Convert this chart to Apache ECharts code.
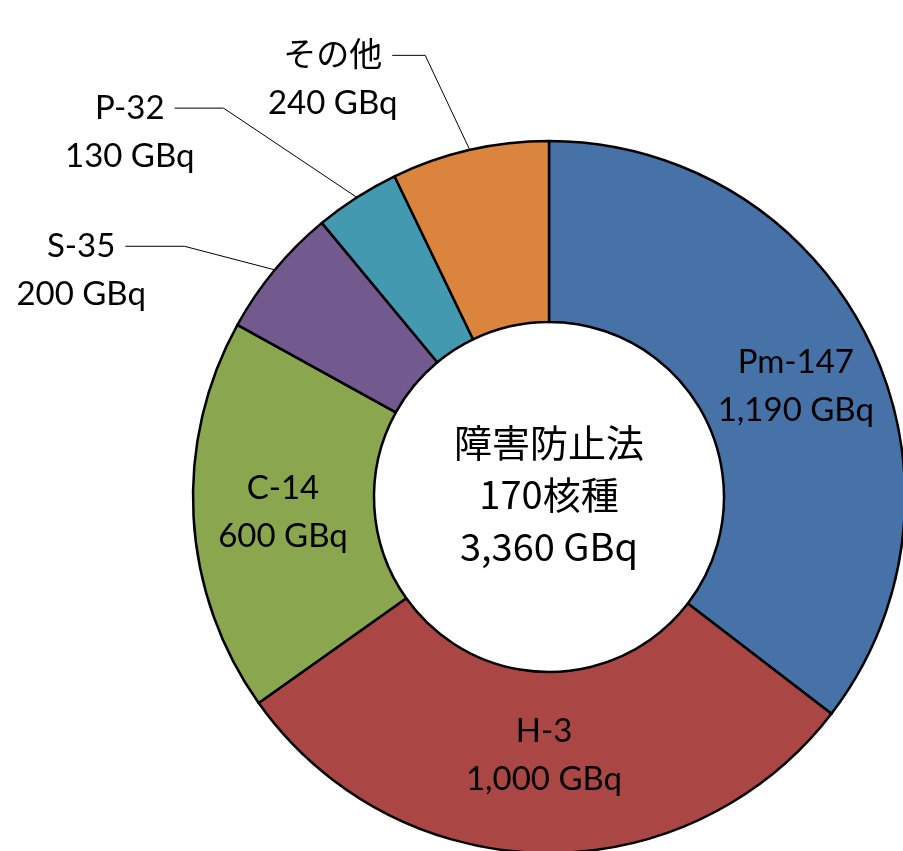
<!DOCTYPE html>
<html>
<head>
<meta charset="utf-8">
<script src="https://cdn.jsdelivr.net/npm/echarts@6/dist/echarts.min.js"></script>
<style>html,body{margin:0;padding:0;background:#fff}#c{width:903px;height:851px}</style>
</head>
<body>
<div id="c"></div>
<script>
const CATEGORIES = ['Pm-147', 'H-3', 'C-14', 'S-35', 'P-32', 'その他'];
const VALUES = [1190, 1000, 600, 200, 130, 240];
const UNIT = 'GBq';
const CENTER_TITLE = '障害防止法';
const NUCLIDE_COUNT = 170;

const COLORS = ['#4672A8', '#AA4744', '#8AA64F', '#725A8F', '#4399B0', '#DB843D'];
const LABEL_POS = ['inside', 'inside', 'inside', 'outside', 'outside', 'outside'];
const LINE_LEN1 = [0, 0, 0, 37, 106, 97];
const LINE_LEN2 = [0, 0, 0, 121, 125, 56];
const KNEE_LEN = [0, 0, 0, 59, 49, 33];
const NUDGE = [[6, 8], [0, -10], [2, 0], [0, 0], [0, 0], [0, 0]];

const CENTER = [549, 497];
const LABEL_FONT = 'Lato, "Noto Sans CJK JP", sans-serif';
const LABEL_SIZE = 33;
const LABEL_LH = 48;

const fmt = v => v.toLocaleString('en-US');
const ctx = document.createElement('canvas').getContext('2d');
ctx.font = LABEL_SIZE + 'px ' + LABEL_FONT;
const mw = t => ctx.measureText(t).width;

const data = CATEGORIES.map((name, i) => {
  const outside = LABEL_POS[i] === 'outside';
  const item = {
    name: name,
    value: VALUES[i],
    itemStyle: { color: COLORS[i] },
    label: { position: LABEL_POS[i] }
  };
  if (outside) {
    const w1 = mw(name), w2 = mw(fmt(VALUES[i]) + ' ' + UNIT);
    item.label.padding = [LABEL_LH, 0, 0, 0];
    item.label.distanceToLabelLine = 10 - (w2 - w1) / 2;
    item.labelLine = { show: true, length: LINE_LEN1[i], length2: LINE_LEN2[i] };
  } else {
    item.labelLine = { show: false };
  }
  return item;
});

const total = VALUES.reduce((a, b) => a + b, 0);

const chart = echarts.init(document.getElementById('c'), null, { renderer: 'canvas' });
chart.setOption({
  backgroundColor: '#fff',
  animation: false,
  series: [{
    type: 'pie',
    center: CENTER,
    radius: [175, 356],
    startAngle: 90,
    clockwise: true,
    avoidLabelOverlap: false,
    silent: true,
    itemStyle: { borderColor: '#000', borderWidth: 2.5 },
    label: {
      show: true,
      color: '#000',
      formatter: p => '{n|' + p.name + '}\n{v|' + fmt(p.value) + ' ' + UNIT + '}',
      rich: {
        n: { fontFamily: LABEL_FONT, fontSize: LABEL_SIZE, lineHeight: LABEL_LH, color: '#000', align: 'center' },
        v: { fontFamily: LABEL_FONT, fontSize: LABEL_SIZE, lineHeight: LABEL_LH, color: '#000', align: 'center' }
      }
    },
    labelLine: { lineStyle: { color: '#000', width: 1 }, smooth: false },
    labelLayout: function (params) {
      const i = params.dataIndex;
      if (LABEL_POS[i] === 'outside') {
        const pts = params.labelLinePoints;
        if (!pts) return {};
        const end = pts[2];
        return { labelLinePoints: [pts[0], [end[0] + KNEE_LEN[i], end[1]], end] };
      }
      return { dx: NUDGE[i][0], dy: NUDGE[i][1] };
    },
    data: data
  }],
  graphic: [{
    type: 'text',
    x: CENTER[0],
    y: CENTER[1] - 2,
    silent: true,
    style: {
      text: CENTER_TITLE + '\n' + NUCLIDE_COUNT + '核種\n' + fmt(total) + ' ' + UNIT,
      fontFamily: '"Noto Sans CJK JP", sans-serif',
      fontSize: 38,
      lineHeight: 52,
      fill: '#000',
      align: 'center',
      verticalAlign: 'middle'
    }
  }]
});
</script>
</body>
</html>
